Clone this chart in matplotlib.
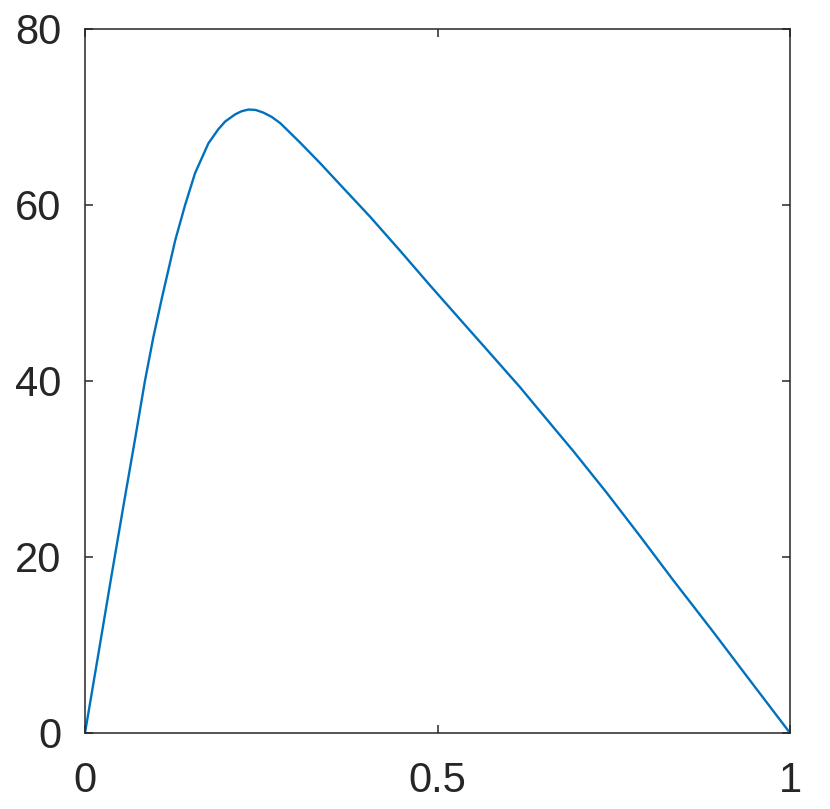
import numpy as np
import matplotlib.pyplot as plt

# curve
x = [0.0, 0.019, 0.037, 0.056, 0.071, 0.085, 0.097, 0.109, 0.128, 0.142,
     0.156, 0.175, 0.189, 0.199, 0.213, 0.222, 0.232, 0.242, 0.253, 0.265,
     0.277, 0.305, 0.333, 0.362, 0.404, 0.447, 0.489, 0.532, 0.574, 0.617,
     0.645, 0.693, 0.740, 0.787, 0.834, 0.891, 0.943, 1.0]
y = [0.0, 9.0, 17.6, 26.5, 33.4, 40.0, 45.0, 49.4, 56.0, 60.0,
     63.6, 67.0, 68.6, 69.5, 70.3, 70.65, 70.85, 70.8, 70.5, 70.0,
     69.3, 67.1, 64.8, 62.3, 58.7, 54.8, 50.9, 47.0, 43.2, 39.3,
     36.6, 32.0, 27.3, 22.4, 17.4, 11.5, 6.0, 0.0]

xticks = [0, 0.5, 1]
xticklabels = ["0", "0.5", "1"]
yticks = [0, 20, 40, 60, 80]

plt.rcParams['font.family'] = ['Liberation Sans', 'DejaVu Sans']

fig = plt.figure(figsize=(8.3, 8.09), dpi=100)
ax = fig.add_axes([85 / 830, 76 / 809, 705 / 830, 704 / 809])
ax.plot(x, y, color='#0072BD', lw=1.7, solid_joinstyle='round')

ax.set_xlim(0, 1)
ax.set_ylim(0, 80)
ax.set_xticks(xticks)
ax.set_xticklabels(xticklabels)
ax.set_yticks(yticks)
for s in ax.spines.values():
    s.set_color('#262626')
    s.set_linewidth(1.1)
ax.tick_params(direction='in', length=6, width=1.1, color='#262626',
               labelcolor='#262626', labelsize=30,
               top=True, right=True)
ax.tick_params(axis='x', pad=20)
ax.tick_params(axis='y', pad=17)

fig.savefig('out.png', dpi=100)
